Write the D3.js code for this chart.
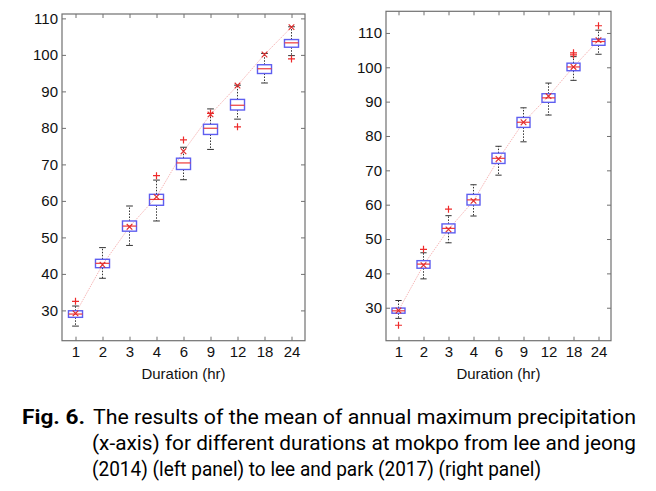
<!DOCTYPE html>
<html>
<head>
<meta charset="utf-8">
<script src="https://cdn.jsdelivr.net/npm/d3@7"></script>
<style>
  html, body { margin: 0; padding: 0; background: #fff; }
  svg { display: block; }
</style>
</head>
<body>
<svg id="chart" width="656" height="491"></svg>
<script>
const durations = ["1", "2", "3", "4", "6", "9", "12", "18", "24"];
const yTicks = [30, 40, 50, 60, 70, 80, 90, 100, 110];

// Left panel: lee and jeong (2014)
const leftLow     = [25.7, 38.8, 47.8, 54.5, 65.8, 74.1, 82.4, 92.3, 99.8];
const leftQ1      = [28.1, 41.7, 51.7, 58.8, 68.6, 78.2, 84.9, 94.9, 102.1];
const leftMedian  = [29.0, 42.9, 53.1, 60.4, 70.4, 79.9, 86.2, 96.2, 103.3];
const leftQ3      = [29.9, 44.0, 54.5, 61.8, 71.7, 81.0, 87.8, 97.3, 104.2];
const leftHigh    = [31.2, 47.2, 58.6, 65.7, 74.7, 85.2, 91.7, 100.4, 107.7];
const leftMean    = [29.2, 42.5, 52.9, 61.1, 73.6, 83.7, 91.6, 100.1, 107.6];
const leftOutliers = [[32.5], [], [], [66.9], [76.7], [84.0], [80.3], [], [98.9]];

// Right panel: lee and park (2017)
const rightLow    = [26.9, 38.4, 48.9, 56.7, 68.6, 78.3, 86.1, 96.2, 103.8];
const rightQ1     = [28.4, 41.5, 51.8, 59.9, 72.0, 82.5, 89.8, 99.0, 106.4];
const rightMedian = [29.1, 42.7, 53.1, 61.4, 73.5, 84.0, 91.1, 100.1, 107.5];
const rightQ3     = [29.9, 43.7, 54.4, 63.0, 75.0, 85.4, 92.3, 101.2, 108.2];
const rightHigh   = [32.1, 46.0, 56.8, 65.8, 77.0, 88.2, 95.4, 103.1, 110.8];
const rightMean   = [29.2, 42.4, 52.8, 61.1, 73.3, 84.0, 91.6, 100.1, 107.9];
const rightOutliers = [[24.9], [47.0], [58.7], [], [], [], [], [104.2, 103.6], [112.1]];

const xLabel = "Duration (hr)";
const captionLines = [
  { bold: "Fig. 6.", text: "The results of the mean of annual maximum precipitation" },
  { bold: "", text: "(x-axis) for different durations at mokpo from lee and jeong" },
  { bold: "", text: "(2014) (left panel) to lee and park (2017) (right panel)" }
];

const svg = d3.select("#chart");
const chartFont = "'Liberation Sans', Arial, sans-serif";

function panel(cfg) {
  const { x0, x1, yTop, yBot, domain, low, q1, med, q3, high, mean, outliers } = cfg;
  const g = svg.append("g");
  const x = d3.scalePoint().domain(durations).range([x0, x1]).padding(0.5);
  const y = d3.scaleLinear().domain(domain).range([yBot, yTop]);
  const step = x.step();
  const bw = step * 0.52;
  const cap = step * 0.25;

  const axisColor = "#707070";
  const styleAxis = sel => {
    sel.select(".domain").remove();
    sel.selectAll(".tick line").attr("stroke", axisColor).attr("stroke-width", 1);
    sel.selectAll(".tick text").attr("fill", "#111")
      .style("font-family", chartFont).style("font-size", "15px");
  };
  g.append("g").attr("transform", `translate(0,${yBot})`)
    .call(d3.axisBottom(x).tickSize(-4).tickSizeOuter(0).tickPadding(6)).call(styleAxis);
  g.append("g").attr("transform", `translate(0,${yTop})`)
    .call(d3.axisTop(x).tickSize(-4).tickSizeOuter(0).tickFormat("")).call(styleAxis);
  g.append("g").attr("transform", `translate(${x0},0)`)
    .call(d3.axisLeft(y).tickValues(yTicks).tickSize(-4).tickSizeOuter(0).tickPadding(4)).call(styleAxis);
  g.append("g").attr("transform", `translate(${x1},0)`)
    .call(d3.axisRight(y).tickValues(yTicks).tickSize(-4).tickSizeOuter(0).tickFormat("")).call(styleAxis);

  g.append("rect").attr("x", x0).attr("y", yTop).attr("width", x1 - x0).attr("height", yBot - yTop)
    .attr("fill", "none").attr("stroke", axisColor).attr("stroke-width", 1.2);

  // mean line
  const line = d3.line().x((d, i) => x(durations[i])).y(d => y(d));
  g.append("path").datum(mean).attr("d", line).attr("fill", "none")
    .attr("stroke", "#f4a4a4").attr("stroke-width", 0.8).attr("stroke-dasharray", "1.5,1");

  durations.forEach((dur, i) => {
    const cx = x(dur);
    g.append("line").attr("x1", cx).attr("x2", cx).attr("y1", y(q3[i])).attr("y2", y(high[i]))
      .attr("stroke", "#333").attr("stroke-width", 1).attr("stroke-dasharray", "1.5,1.5");
    g.append("line").attr("x1", cx).attr("x2", cx).attr("y1", y(q1[i])).attr("y2", y(low[i]))
      .attr("stroke", "#333").attr("stroke-width", 1).attr("stroke-dasharray", "1.5,1.5");
    [high[i], low[i]].forEach(v => {
      g.append("line").attr("x1", cx - cap / 2).attr("x2", cx + cap / 2).attr("y1", y(v)).attr("y2", y(v))
        .attr("stroke", "#333").attr("stroke-width", 1);
    });
    g.append("rect").attr("x", cx - bw / 2).attr("y", y(q3[i])).attr("width", bw)
      .attr("height", y(q1[i]) - y(q3[i])).attr("fill", "none")
      .attr("stroke", "#5e5ef0").attr("stroke-width", 1.4);
    g.append("line").attr("x1", cx - bw / 2).attr("x2", cx + bw / 2).attr("y1", y(med[i])).attr("y2", y(med[i]))
      .attr("stroke", "#ee3a3a").attr("stroke-width", 1.2);
    outliers[i].forEach(v => {
      const oy = y(v), s = 3.5;
      g.append("path").attr("d", `M${cx - s},${oy}H${cx + s}M${cx},${oy - s}V${oy + s}`)
        .attr("stroke", "#ee2a2a").attr("stroke-width", 1.2).attr("fill", "none");
    });
    const my = y(mean[i]), m = 2.8;
    g.append("path").attr("d", `M${cx - m},${my - m}L${cx + m},${my + m}M${cx - m},${my + m}L${cx + m},${my - m}`)
      .attr("stroke", "#e02a2a").attr("stroke-width", 1.1).attr("fill", "none");
  });

  g.append("text").attr("x", (x0 + x1) / 2).attr("y", 378.5).attr("text-anchor", "middle")
    .style("font-family", chartFont).style("font-size", "15px")
    .attr("fill", "#111").text(xLabel);
}

panel({ x0: 62, x1: 305, yTop: 14, yBot: 340.7, domain: [21.7, 111.2],
  low: leftLow, q1: leftQ1, med: leftMedian, q3: leftQ3, high: leftHigh, mean: leftMean, outliers: leftOutliers });
panel({ x0: 386, x1: 611, yTop: 11.3, yBot: 340.7, domain: [20.4, 116.3],
  low: rightLow, q1: rightQ1, med: rightMedian, q3: rightQ3, high: rightHigh, mean: rightMean, outliers: rightOutliers });

// caption
const capFont = "Roboto, 'Noto Sans', sans-serif";
const capG = svg.append("g").style("font-family", capFont).style("font-size", "21px").attr("fill", "#000");
const lineLayout = [
  { bx: 22, bw: 63, tx: 93, tw: 543, y: 424 },
  { tx: 92, tw: 544, y: 450 },
  { tx: 92, tw: 449, y: 476 }
];
captionLines.forEach((ln, i) => {
  const L = lineLayout[i];
  if (ln.bold) {
    capG.append("text").attr("x", L.bx).attr("y", L.y).style("font-weight", "bold")
      .attr("textLength", L.bw).attr("lengthAdjust", "spacingAndGlyphs").text(ln.bold);
  }
  capG.append("text").attr("x", L.tx).attr("y", L.y).style("font-weight", 400)
    .attr("textLength", L.tw).attr("lengthAdjust", "spacingAndGlyphs").text(ln.text);
});
</script>
</body>
</html>
